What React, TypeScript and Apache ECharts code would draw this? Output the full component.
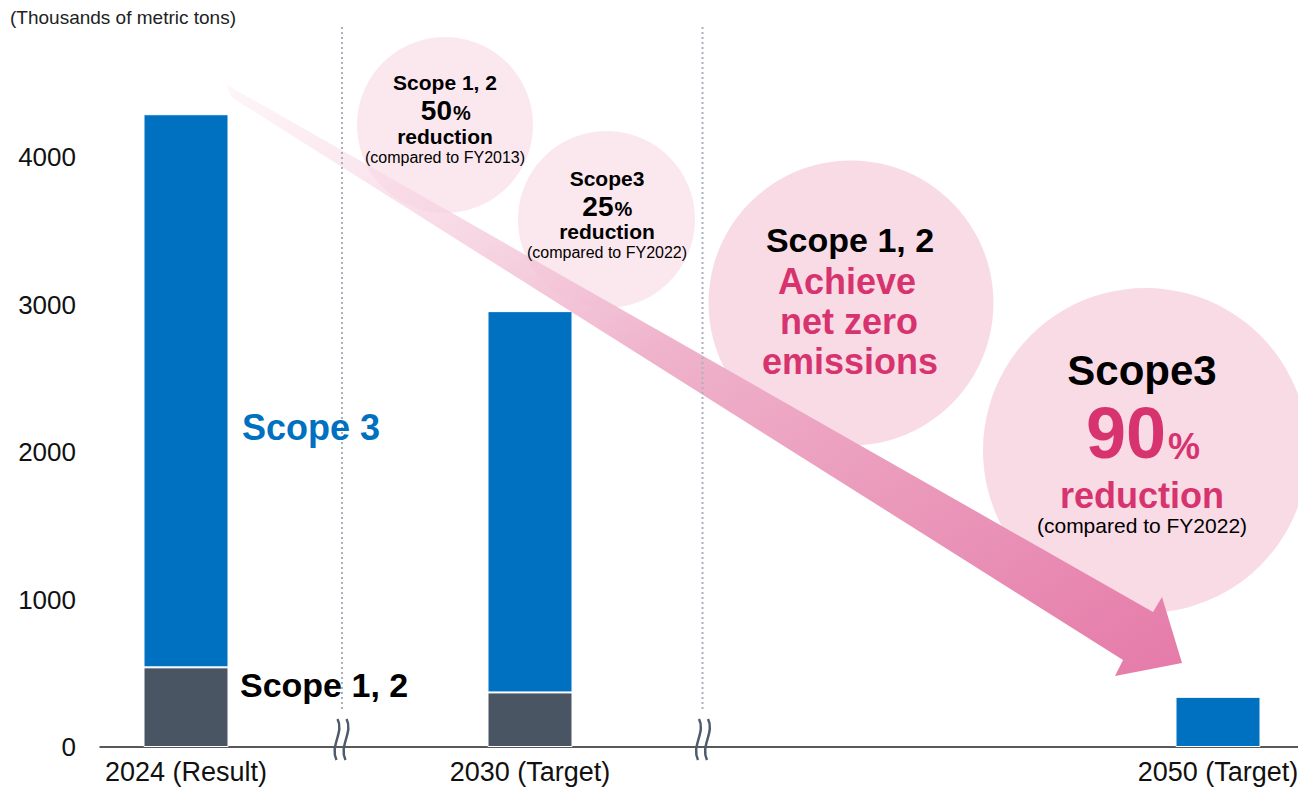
import React, { useEffect, useRef } from "react";
import * as echarts from "echarts";

const categories = ["2024 (Result)", "", "2030 (Target)", "", "", "", "2050 (Target)"];
const scope12 = [540, "-", 370, "-", "-", "-", "-"];
const scope3 = [3750, "-", 2585, "-", "-", "-", 340];
const yMax = 5000;
const yInterval = 1000;
const unitLabel = "(Thousands of metric tons)";

const FONT = "Arial, 'Liberation Sans', sans-serif";
const PINK = "#d7346f";

function txt(text: string, x: number, y: number, size: number, opts: any = {}) {
  const align = opts.align || "center";
  return {
    type: "text",
    x,
    y,
    z: 20,
    style: {
      text,
      fill: opts.color || "#000",
      fontSize: size,
      fontWeight: opts.weight || "bold",
      fontFamily: FONT,
      align,
      verticalAlign: "middle",
      textAlign: align,
      textVerticalAlign: "middle",
    },
  };
}

function breakMark(g: number) {
  const curves: any[] = [];
  [g - 4.5, g + 4.5].forEach((cx) => {
    curves.push({
      type: "bezierCurve",
      z: 15,
      shape: { x1: cx + 1, y1: 719, cpx1: cx + 8, cpy1: 732, cpx2: cx - 7, cpy2: 746, x2: cx, y2: 760 },
      style: { stroke: "#4f5b6b", lineWidth: 2.5, fill: null },
    });
  });
  return curves;
}

function dotted(x: number) {
  return {
    type: "line",
    z: 15,
    shape: { x1: x, y1: 27, x2: x, y2: 712 },
    style: { stroke: "#a9b1bd", lineWidth: 2, lineDash: [2, 3] },
  };
}

export default function App() {
  const ref = useRef<HTMLDivElement>(null);
  useEffect(() => {
    if (!ref.current) return;
    const chart = echarts.init(ref.current, null, { renderer: "svg" });
    const arrowFill = new echarts.graphic.LinearGradient(0, 0, 1, 1, [
      { offset: 0, color: "rgba(252,236,242,0.5)" },
      { offset: 0.45, color: "#efb3cb" },
      { offset: 1, color: "#e57aa8" },
    ]);
    const option: any = {
      animation: false,
      grid: { left: 100, width: 1204, top: 9.5, bottom: 40, containLabel: false, outerBoundsMode: "none" },
      xAxis: {
        type: "category",
        data: categories,
        axisTick: { show: false },
        axisLine: { lineStyle: { color: "#222", width: 1.5 } },
        axisLabel: { interval: 0, fontSize: 27, color: "#111", margin: 11, fontFamily: FONT },
      },
      yAxis: {
        type: "value",
        min: 0,
        max: yMax,
        interval: yInterval,
        splitLine: { show: false },
        axisLine: { show: false },
        axisTick: { show: false },
        axisLabel: {
          fontSize: 26,
          color: "#111",
          margin: 24,
          fontFamily: FONT,
          showMaxLabel: false,
          formatter: (v: number) => String(v),
        },
      },
      series: [
        {
          name: "Scope 1, 2",
          type: "bar",
          stack: "total",
          data: scope12,
          barWidth: 85,
          itemStyle: { color: "#4a5563", borderColor: "#fff", borderWidth: 1 },
        },
        {
          name: "Scope 3",
          type: "bar",
          stack: "total",
          data: scope3,
          barWidth: 85,
          itemStyle: { color: "#0070c0", borderColor: "#fff", borderWidth: 1 },
        },
      ],
      graphic: [
        { type: "circle", z: 5, shape: { cx: 445, cy: 125, r: 88 }, style: { fill: "#fbe8ef" } },
        { type: "circle", z: 5, shape: { cx: 606.5, cy: 219.5, r: 88.5 }, style: { fill: "#fbe8ef" } },
        { type: "circle", z: 5, shape: { cx: 851, cy: 303, r: 142.5 }, style: { fill: "#f9dbe6" } },
        { type: "circle", z: 5, shape: { cx: 1145.5, cy: 450.5, r: 162.5 }, style: { fill: "#f9dbe6" } },
        {
          type: "polygon",
          z: 10,
          shape: {
            points: [
              [227, 85],
              [1153, 612],
              [1162, 597],
              [1182, 663],
              [1115, 676],
              [1123, 660],
              [231, 97],
            ],
          },
          style: { fill: arrowFill },
        },
        txt(unitLabel, 10, 17, 19, { align: "left", weight: "normal", color: "#222" }),
        // circle 1
        txt("Scope 1, 2", 445, 82, 21),
        txt("50", 452, 110.5, 28, { align: "right" }),
        txt("%", 453, 113.3, 20, { align: "left" }),
        txt("reduction", 445, 136.7, 21),
        txt("(compared to FY2013)", 445, 157, 16, { weight: "normal" }),
        // circle 2
        txt("Scope3", 607, 178, 21),
        txt("25", 613.5, 206.2, 28, { align: "right" }),
        txt("%", 614.5, 209, 20, { align: "left" }),
        txt("reduction", 607, 231.8, 21),
        txt("(compared to FY2022)", 607, 252, 16, { weight: "normal" }),
        // circle 3
        txt("Scope 1, 2", 850, 240, 34),
        txt("Achieve", 847, 281, 36, { color: PINK }),
        txt("net zero", 849, 321.7, 36, { color: PINK }),
        txt("emissions", 850, 361.7, 36, { color: PINK }),
        // circle 4
        txt("Scope3", 1142, 370, 42),
        txt("90", 1166, 433, 72, { align: "right", color: PINK }),
        txt("%", 1168, 446, 36, { align: "left", color: PINK }),
        txt("reduction", 1142, 495, 36, { color: PINK }),
        txt("(compared to FY2022)", 1142, 525, 21, { weight: "normal" }),
        // series labels
        txt("Scope 3", 242, 427, 36, { align: "left", color: "#0070c0" }),
        txt("Scope 1, 2", 240, 685, 34, { align: "left" }),
        dotted(342),
        dotted(702.5),
        ...breakMark(341),
        ...breakMark(702.5),
      ],
    };
    chart.setOption(option);
    return () => chart.dispose();
  }, []);
  return (
    <div
      ref={ref}
      style={{ position: "absolute", left: 0, top: 0, width: 1298, height: 787, background: "#fff" }}
    />
  );
}
